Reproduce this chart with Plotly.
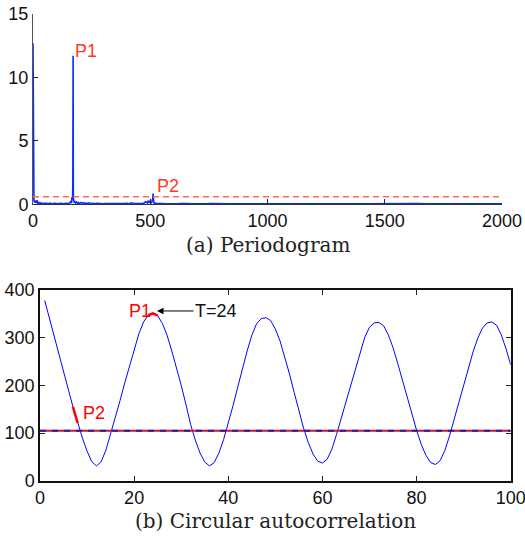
import plotly.graph_objects as go

# ---------------- data ----------------
# (a) periodogram: frequency index and power
pg_freq = [0, 1, 2, 3, 4, 5, 6, 8, 10, 12, 14, 17, 20, 23, 26, 29, 32, 36, 40, 44, 48, 52, 56, 60,
           66, 72, 78, 84, 90, 96, 102, 108, 114, 120, 126, 132, 138, 144, 150, 156, 160, 164,
           166, 168, 169, 170, 171, 172, 173, 174, 176, 179, 182, 186, 190, 194, 198, 204, 210,
           216, 222, 228, 234, 240, 248, 256, 264, 272, 280, 290, 300, 310, 320, 330, 340, 350,
           360, 370, 380, 390, 400, 410, 420, 430, 440, 450, 460, 470, 480, 488, 492, 495, 498,
           502, 506, 509, 511, 512, 513, 515, 518, 522, 528, 536, 544, 552, 560, 570, 580, 590,
           600, 615, 630, 645, 660, 675, 690, 705, 720, 740, 760, 780, 800, 820, 840, 860, 880,
           900, 930, 960, 990, 1020, 1050, 1080, 1110, 1140, 1170, 1200, 1240, 1280, 1320, 1360,
           1400, 1440, 1480, 1520, 1560, 1600, 1640, 1680, 1720, 1760, 1800, 1840, 1880, 1920,
           1960, 2000]
pg_power = [12.7, 1.3, 0.9, 0.55, 0.35, 0.25, 0.15, 0.3, 0.12, 0.2, 0.1, 0.32, 0.1, 0.15, 0.08,
            0.12, 0.06, 0.1, 0.05, 0.08, 0.05, 0.1, 0.04, 0.07, 0.05, 0.09, 0.04, 0.06, 0.05,
            0.08, 0.04, 0.06, 0.05, 0.07, 0.04, 0.06, 0.05, 0.08, 0.05, 0.1, 0.2, 0.15, 0.55,
            0.3, 0.5, 2.0, 11.7, 0.85, 0.3, 0.25, 0.12, 0.2, 0.1, 0.18, 0.08, 0.14, 0.06, 0.15,
            0.07, 0.12, 0.05, 0.1, 0.06, 0.12, 0.05, 0.08, 0.04, 0.07, 0.05, 0.06, 0.04, 0.06,
            0.05, 0.04, 0.08, 0.04, 0.05, 0.06, 0.04, 0.05, 0.07, 0.04, 0.12, 0.05, 0.06, 0.04,
            0.08, 0.05, 0.2, 0.1, 0.3, 0.12, 0.25, 0.08, 0.15, 0.3, 0.5, 0.85, 0.35, 0.15, 0.08,
            0.1, 0.05, 0.07, 0.04, 0.06, 0.05, 0.04, 0.06, 0.04, 0.05, 0.04, 0.06, 0.03, 0.05,
            0.04, 0.03, 0.05, 0.04, 0.03, 0.06, 0.04, 0.03, 0.05, 0.03, 0.04, 0.03, 0.05, 0.03,
            0.04, 0.03, 0.04, 0.05, 0.03, 0.04, 0.03, 0.04, 0.03, 0.04, 0.03, 0.05, 0.03, 0.04,
            0.03, 0.04, 0.03, 0.04, 0.03, 0.05, 0.03, 0.04, 0.03, 0.04, 0.03, 0.04, 0.03, 0.04,
            0.03]
pg_threshold = 0.6

# (b) circular autocorrelation by lag
ac_lag = list(range(1, 101))
ac_value = [378, 342, 305, 268, 230, 192, 155, 121, 90, 62,
            40, 31, 40, 64, 97, 132, 168, 205, 241, 276,
            308, 333, 347, 351, 346, 330, 305, 272, 237, 200,
            160, 118, 85, 58, 39, 31, 38, 58, 86, 120,
            157, 196, 235, 272, 305, 329, 340, 342, 336, 318,
            293, 260, 224, 185, 145, 110, 80, 56, 41, 37,
            45, 66, 97, 131, 167, 203, 238, 272, 301, 322,
            331, 332, 325, 306, 279, 246, 211, 175, 140, 106,
            76, 53, 38, 34, 42, 63, 94, 129, 165, 201,
            236, 270, 299, 320, 331, 333, 326, 306, 277, 243]
ac_threshold = 105
p1_lags = [23, 24, 25]
p2_lags = [7, 8]

x_ticks_a = [0, 500, 1000, 1500, 2000]
y_ticks_a = [0, 5, 10, 15]
x_ticks_b = [0, 20, 40, 60, 80, 100]
y_ticks_b = [0, 100, 200, 300, 400]

# ---------------- figure ----------------
W, H = 525, 536
fig = go.Figure()

fig.add_trace(go.Scatter(x=pg_freq, y=pg_power, mode="lines",
                         line=dict(color="#0a2cff", width=1.6),
                         xaxis="x", yaxis="y", showlegend=False, hoverinfo="skip"))
fig.add_trace(go.Scatter(x=[0, 2000], y=[pg_threshold, pg_threshold], mode="lines",
                         line=dict(color="#ff6a5a", width=1.4, dash="6px,4px"),
                         xaxis="x", yaxis="y", showlegend=False, hoverinfo="skip"))

fig.add_trace(go.Scatter(x=ac_lag, y=ac_value, mode="lines",
                         line=dict(color="#0000ff", width=1),
                         xaxis="x2", yaxis="y2", showlegend=False, hoverinfo="skip"))
fig.add_trace(go.Scatter(x=[0, 100], y=[ac_threshold, ac_threshold], mode="lines",
                         line=dict(color="#c8103a", width=2),
                         xaxis="x2", yaxis="y2", showlegend=False, hoverinfo="skip"))
fig.add_trace(go.Scatter(x=[0, 100], y=[ac_threshold, ac_threshold], mode="lines",
                         line=dict(color="#2a1aa8", width=2, dash="6px,6px"),
                         xaxis="x2", yaxis="y2", showlegend=False, hoverinfo="skip"))
fig.add_trace(go.Scatter(x=p1_lags, y=[ac_value[l - 1] for l in p1_lags], mode="lines",
                         line=dict(color="#ff0000", width=2.5),
                         xaxis="x2", yaxis="y2", showlegend=False, hoverinfo="skip"))
fig.add_trace(go.Scatter(x=p2_lags, y=[ac_value[l - 1] for l in p2_lags], mode="lines",
                         line=dict(color="#ff0000", width=2.5),
                         xaxis="x2", yaxis="y2", showlegend=False, hoverinfo="skip"))

tickfont = dict(family="Liberation Sans, Arial, sans-serif", size=18, color="#111")

def px_x(p):
    return p / W

def px_y(p):
    return 1 - p / H

common = dict(ticks="inside", ticklen=5, tickcolor="#222", showline=True, showgrid=False,
              zeroline=False, tickfont=tickfont, automargin=False, ticklabeloverflow="allow")

fig.update_layout(
    width=W, height=H,
    margin=dict(l=0, r=0, t=0, b=0, autoexpand=False),
    paper_bgcolor="white", plot_bgcolor="white",
    xaxis=dict(common, domain=[px_x(33), px_x(502)], range=[0, 2000], tickvals=x_ticks_a,
               linecolor="#333", linewidth=1, anchor="y"),
    yaxis=dict(common, domain=[px_y(204.3), px_y(14)], range=[0, 15], tickvals=y_ticks_a,
               linecolor="#555", linewidth=1, anchor="x"),
    xaxis2=dict(common, domain=[px_x(40), px_x(510.7)], range=[0, 100], tickvals=x_ticks_b,
                linecolor="#111", linewidth=1.5, mirror="ticks", anchor="y2"),
    yaxis2=dict(common, domain=[px_y(480.7), px_y(290)], range=[0, 400], tickvals=y_ticks_b,
                linecolor="#111", linewidth=1.5, mirror="ticks", anchor="x2"),
)

lab = dict(family="Liberation Sans, Arial, sans-serif", size=18)
annotations = [
    dict(x=226, y=12.08, xref="x", yref="y", text="P1", showarrow=False,
         font=dict(lab, color="#ff3a22")),
    dict(x=574, y=1.44, xref="x", yref="y", text="P2", showarrow=False,
         font=dict(lab, color="#ff3a22")),
    dict(x=21.14, y=356.5, xref="x2", yref="y2", text="P1", showarrow=False,
         font=dict(lab, color="#ff0000")),
    dict(x=11.4, y=142, xref="x2", yref="y2", text="P2", showarrow=False,
         font=dict(lab, color="#ff0000")),
    dict(x=24.86, y=356, xref="x2", yref="y2", text="T=24", showarrow=True,
         ax=59, ay=0, arrowhead=2, arrowsize=1.3, arrowwidth=1, arrowcolor="#000",
         standoff=0, font=dict(lab, color="#111")),
    dict(x=0.5 * (px_x(33) + px_x(502)), y=px_y(245), xref="paper", yref="paper",
         xanchor="center", yanchor="middle",
         text="(a) Periodogram", showarrow=False,
         font=dict(family="DejaVu Serif, serif", size=20, color="#222")),
    dict(x=0.5 * (px_x(40) + px_x(510.7)), y=px_y(521), xref="paper", yref="paper",
         xanchor="center", yanchor="middle",
         text="(b) Circular autocorrelation", showarrow=False,
         font=dict(family="DejaVu Serif, serif", size=20, color="#222")),
]
fig.update_layout(annotations=annotations)

fig.write_html("out.html")
